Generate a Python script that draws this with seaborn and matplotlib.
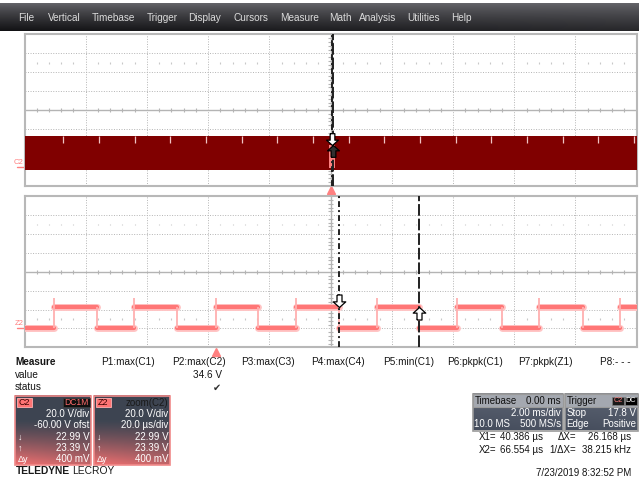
"""
LeCroy scope capture: C2 overview (2 ms/div) with a 20 us/div zoom (Z2).
"""

import numpy as np
import pandas as pd
import matplotlib.pyplot as plt
import matplotlib.transforms as mtransforms
from matplotlib.patches import Rectangle
import seaborn as sns

# ---- menu bar
menu_items = ["File", "Vertical", "Timebase", "Trigger", "Display", "Cursors",
              "Measure", "Math", "Analysis", "Utilities", "Help"]

# ---- C2 overview trace
c2_ms_div = 2.0
c2_delay_ms = 0.0
c2_volts_div = 20.0
c2_offset_v = -60.0
c2_band_v = [-3.0, 32.5]          # envelope of the switching node
c2_notch_ms = [-8.74, -7.57, -6.40, -5.24, -4.07, -2.91, -1.74, -0.58, 0.60,
               1.76, 2.92, 4.09, 5.25, 6.42, 7.58, 8.75, 9.91]
c2_notch_v = 25.5

# ---- Z2 zoom of C2
z2_us_div = 20.0
z2_center_us = 37.6
z2_rise_us = [-52.9, -26.6, 0.0, 26.3, 52.8, 79.0, 105.7, 132.2]
z2_fall_us = [-38.8, -12.5, 13.9, 40.4, 66.6, 93.6, 120.0]
z2_low_v = 0.8
z2_high_v = 23.0
z2_overshoot_v = 32.5
cursor_us = [40.386, 66.554]

# ---- measure table
measure_params = ["P1:max(C1)", "P2:max(C2)", "P3:max(C3)", "P4:max(C4)",
                  "P5:min(C1)", "P6:pkpk(C1)", "P7:pkpk(Z1)", "P8:- - -"]
measure_values = ["", "34.6 V", "", "", "", "", "", ""]
measure_status = ["", "\u2714", "", "", "", "", "", ""]

c2_box_lines = ["20.0 V/div", "-60.00 V ofst", "22.99 V", "23.39 V", "400 mV"]
z2_box_lines = ["20.0 V/div", "20.0 \u00b5s/div", "22.99 V", "23.39 V", "400 mV"]
timebase_lines = [("Timebase", "0.00 ms"), ("", "2.00 ms/div"), ("10.0 MS", "500 MS/s")]
trigger_lines = [("Trigger", ""), ("Stop", "17.8 V"), ("Edge", "Positive")]
cursor_lines = [("X1=", "40.386 \u00b5s", "\u0394X=", "26.168 \u00b5s"),
                ("X2=", "66.554 \u00b5s", "1/\u0394X=", "38.215 kHz")]
timestamp = "7/23/2019 8:32:52 PM"

sns.set_style("white")
plt.rcParams['font.family'] = ['Liberation Sans', 'DejaVu Sans']

W, H = 639, 480
fig = plt.figure(figsize=(W / 100, H / 100), dpi=100)
fig.patch.set_facecolor('white')

# overlay in pixel coordinates for the UI chrome
ov = fig.add_axes([0, 0, 1, 1])
ov.axis('off')


def gradient_box(x0, y0, w, h, top, bottom, start=0.3, power=1.2, edge=None):
    yy = np.linspace(0, 1, 80)[:, None]
    xx = np.linspace(0, 1, 40)[None, :]
    wgt = np.clip((yy - start) / (1 - start), 0, 1) ** power * (1 - 0.25 * xx)
    img = np.array(top)[None, None, :] * (1 - wgt[..., None]) + \
        np.array(bottom)[None, None, :] * wgt[..., None]
    ov.imshow(img, extent=(x0, x0 + w, y0 + h, y0), aspect='auto',
              interpolation='bilinear', zorder=2)
    if edge:
        ov.add_patch(Rectangle((x0, y0), w, h, fill=False, ec=edge, lw=1.2, zorder=3))


# menu bar
gradient_box(0, 3, W, 28, (0.40, 0.40, 0.42), (0.07, 0.07, 0.08), start=0.0, power=0.8)
menu_x = [18, 48, 92, 147, 188, 233, 280, 329, 359, 407, 451]
for name, x in zip(menu_items, menu_x):
    ov.text(x, 18, name, color='#dcdcdc', fontsize=7.2, va='center', ha='left', zorder=4)

# ---- scope panels
px_l, px_r = 24.5, 636.7
top_t, top_b = 34.5, 185.7
bot_t, bot_b = 196.3, 347.3
ax1 = fig.add_axes([px_l / W, 1 - top_b / H, (px_r - px_l) / W, (top_b - top_t) / H])
ax2 = fig.add_axes([px_l / W, 1 - bot_b / H, (px_r - px_l) / W, (bot_b - bot_t) / H])

grid_c = '#b4b4b4'


def scope_grid(ax, xc, xdiv, yc, ydiv):
    ax.set_xlim(xc - 5 * xdiv, xc + 5 * xdiv)
    ax.set_ylim(yc - 4 * ydiv, yc + 4 * ydiv)
    for k in range(-4, 5):
        ax.axvline(xc + k * xdiv, color=grid_c, lw=1.0 if k == 0 else 0.7,
                   ls='-' if k == 0 else (0, (1, 1.6)), zorder=1)
    for k in range(-3, 4):
        ax.axhline(yc + k * ydiv, color=grid_c, lw=1.0 if k == 0 else 0.7,
                   ls='-' if k == 0 else (0, (1, 1.6)), zorder=1)
    sub = np.arange(-25, 26)
    sub = sub[sub % 5 != 0]
    ax.vlines(xc + sub * xdiv / 5, yc - 0.1 * ydiv, yc + 0.1 * ydiv, color=grid_c, lw=0.8, zorder=1)
    for s in (-2.5, 2.5):
        ax.vlines(xc + sub * xdiv / 5, yc + (s - 0.04) * ydiv, yc + (s + 0.04) * ydiv,
                  color='#c8c8c8', lw=0.8, zorder=1)
    subv = np.arange(-20, 21)
    subv = subv[subv % 5 != 0]
    ax.hlines(yc + subv * ydiv / 5, xc - 0.04 * xdiv, xc + 0.04 * xdiv, color=grid_c, lw=0.8, zorder=1)
    ax.set_xticks([])
    ax.set_yticks([])
    ax.set_facecolor('white')
    for sp in ax.spines.values():
        sp.set_visible(True)
        sp.set_color('#b8b8b8')
        sp.set_linewidth(1.5)


yc = -c2_offset_v
scope_grid(ax1, c2_delay_ms, c2_ms_div, yc, c2_volts_div)
scope_grid(ax2, z2_center_us, z2_us_div, yc, c2_volts_div)

down_arrow = [(-0.2, 1.0), (0.2, 1.0), (0.2, 0.45), (0.5, 0.45), (0.0, 0.0),
              (-0.5, 0.45), (-0.2, 0.45), (-0.2, 1.0)]
up_arrow = [(x, -y) for x, y in down_arrow]

# top panel: compressed switching waveform
t_span = [c2_delay_ms - 5 * c2_ms_div, c2_delay_ms + 5 * c2_ms_div]
ax1.fill_between(t_span, c2_band_v[0], c2_band_v[1], color='#800000', lw=0, zorder=3)
ax1.vlines(c2_notch_ms, c2_notch_v, c2_band_v[1], color='#f0c4c4', lw=0.9, zorder=4)
zoom_ms = [(z2_center_us - 5 * z2_us_div) / 1000, (z2_center_us + 5 * z2_us_div) / 1000]
ax1.fill_between(zoom_ms, z2_low_v - 2, z2_high_v, color='#ff8080', lw=0, zorder=4)
cur_styles = [(0, (3, 1.6, 1, 1.6)), (0, (6, 1.5))]
for c, ls in zip(cursor_us, cur_styles):
    ax1.axvline(c / 1000, color='#202020', lw=1.4, ls=ls, zorder=5)
ax1.plot([cursor_us[0] / 1000], [z2_high_v], marker=down_arrow, ms=17, mfc='white',
         mec='black', mew=0.9, ls='none', zorder=6)
ax1.plot([cursor_us[1] / 1000], [z2_high_v], marker=up_arrow, ms=17, mfc='#303030',
         mec='black', mew=0.9, ls='none', zorder=6)

# bottom panel: zoomed square wave
edges = sorted([(t, 1) for t in z2_rise_us] + [(t, 0) for t in z2_fall_us])
lo, hi = ax2.get_xlim()
rows = []
start, level = lo, z2_low_v
for i, (t, rising) in enumerate(edges):
    rows += [(i, start, level), (i, t, level)]
    start, level = t, (z2_high_v if rising else z2_low_v)
rows += [(len(edges), start, level), (len(edges), hi, level)]
df = pd.DataFrame(rows, columns=['seg', 't_us', 'volt'])
sns.lineplot(data=df, x='t_us', y='volt', units='seg', estimator=None, color='#ffc4c4',
             lw=5.0, ax=ax2, legend=False, zorder=3)
sns.lineplot(data=df, x='t_us', y='volt', units='seg', estimator=None, color='#ff7676',
             lw=3.0, ax=ax2, legend=False, zorder=3)
ax2.vlines(z2_rise_us, z2_low_v, z2_overshoot_v, color='#ffb0b0', lw=1.3, zorder=3)
ax2.vlines(z2_fall_us, z2_low_v, z2_high_v, color='#ffb0b0', lw=1.3, zorder=3)
ax2.set_xlim(lo, hi)
ax2.set_xlabel('')
ax2.set_ylabel('')
for c, ls in zip(cursor_us, cur_styles):
    ax2.axvline(c, color='#202020', lw=1.4, ls=ls, zorder=5)
ax2.plot([cursor_us[0]], [z2_high_v], marker=down_arrow, ms=18, mfc='white',
         mec='black', mew=0.9, ls='none', zorder=6)
ax2.plot([cursor_us[1]], [z2_high_v], marker=up_arrow, ms=18, mfc='white',
         mec='black', mew=0.9, ls='none', zorder=6)

# ground markers and trigger markers
for ax, lab in ((ax1, 'C2'), (ax2, 'Z2')):
    tr = mtransforms.blended_transform_factory(ax.transAxes, ax.transData)
    ax.plot([-0.013, -0.001], [0, 0], color='#ff8080', lw=1.0, transform=tr, clip_on=False)
    ax.text(-0.009, 1.2, lab, color='#ff8080', fontsize=5.5, ha='center', va='bottom',
            transform=tr, clip_on=False)
    trx = mtransforms.blended_transform_factory(ax.transData, ax.transAxes)
    ax.plot([0], [-0.028], marker='^', ms=5.5, color='#ff8080', ls='none',
            transform=trx, clip_on=False)

# ---- measure table
ov.text(15, 362, "Measure", fontsize=7.2, fontweight='bold', va='center', color='#151515')
ov.text(15, 374.5, "value", fontsize=7.2, va='center', color='#151515')
ov.text(15, 387, "status", fontsize=7.2, va='center', color='#151515')
meas_x = [101, 172, 241, 311, 383, 447, 518, 600]
for x, p, v, s in zip(meas_x, measure_params, measure_values, measure_status):
    ov.text(x, 362, p, fontsize=7.2, va='center', color='#151515')
    if v:
        ov.text(x + 50, 374.5, v, fontsize=7.2, va='center', ha='right', color='#151515')
    if s:
        ov.text(x + 49, 387.5, s, fontsize=7, va='center', ha='right', color='#303030',
                family=['DejaVu Sans'])

# channel descriptor boxes
slate = (0.24, 0.27, 0.32)
salmon = (0.95, 0.44, 0.44)
row_y = [414, 425.5, 437, 448, 459]
for x0, lines, tag in ((14.5, c2_box_lines, 'C2'), (93.5, z2_box_lines, 'Z2')):
    gradient_box(x0, 395.5, 76, 69.5, slate, salmon, start=0.35, power=1.3, edge='#f08a8a')
    ov.add_patch(Rectangle((x0 + 2, 398), 15, 9, fc='#ff7474', ec='#ffb0b0', lw=0.6, zorder=4))
    ov.text(x0 + 9.5, 402.6, tag, fontsize=6.5, ha='center', va='center', color='#3a0000', zorder=5)
    for y, s in zip(row_y, lines):
        ov.text(x0 + 75, y, s, fontsize=7, ha='right', va='center', color='white', zorder=5)
    for y, s in zip(row_y[2:], ["\u2193", "\u2191", "\u0394y"]):
        ov.text(x0 + 3, y, s, fontsize=6.5, ha='left', va='center', color='white', zorder=5)
ov.add_patch(Rectangle((62.5, 398), 27, 9, fc='#101010', ec='#404040', lw=0.5, zorder=4))
ov.text(76, 402.6, "DC1M", fontsize=6.2, ha='center', va='center', color='#ff6a6a', zorder=5)
ov.text(168.5, 402.6, "zoom(C2)", fontsize=7, ha='right', va='center', color='#1a1a1a', zorder=5)

# timebase / trigger boxes
box_rows = [401, 412.5, 424]
for x0, w, lines in ((472.5, 90, timebase_lines), (564.5, 73, trigger_lines)):
    gradient_box(x0, 393.5, w, 37, (0.36, 0.39, 0.45), (0.27, 0.30, 0.36), start=0.0, power=1.0,
                 edge='#9a9a9a')
    ov.add_patch(Rectangle((x0, 393.5), w, 13, fc='#a4a8b0', ec='#9a9a9a', lw=0.8, zorder=3))
    for i, ((l, r), y) in enumerate(zip(lines, box_rows)):
        col = '#111111' if i == 0 else 'white'
        if l:
            ov.text(x0 + 2, y, l, fontsize=7, ha='left', va='center', color=col, zorder=5)
        if r:
            ov.text(x0 + w - 1.5, y, r, fontsize=7, ha='right', va='center', color=col, zorder=5)
ov.add_patch(Rectangle((612, 396.5), 12, 8, fc='#1a1a1a', ec='#808080', lw=0.5, zorder=4))
ov.text(618, 400.6, "C2", fontsize=5.2, ha='center', va='center', color='#ff8080', zorder=5)
ov.add_patch(Rectangle((625, 396.5), 12, 8, fc='#000000', ec='#808080', lw=0.5, zorder=4))
ov.text(631, 400.6, "DC", fontsize=5.2, ha='center', va='center', color='white', zorder=5)

# cursor readouts
for (a, b, c, d), y in zip(cursor_lines, [437, 450]):
    ov.text(479, y, a, fontsize=7, ha='left', va='center', color='#151515')
    ov.text(543, y, b, fontsize=7, ha='right', va='center', color='#151515')
    ov.text(576, y, c, fontsize=7, ha='right', va='center', color='#151515')
    ov.text(631, y, d, fontsize=7, ha='right', va='center', color='#151515')
ov.text(631, 473, timestamp, fontsize=7, ha='right', va='center', color='#151515')

# brand mark: bold word followed by regular word
brand = ov.text(16, 471.5, "TELEDYNE", fontsize=7.4, fontweight='bold', ha='left',
                va='center', color='#1a1a1a')
ov.set_xlim(0, W)
ov.set_ylim(H, 0)
fig.canvas.draw()
bb = brand.get_window_extent()
ov.text(bb.x1 + 2, 471.5, "LECROY", fontsize=7.4, ha='left', va='center', color='#1a1a1a',
        transform=mtransforms.blended_transform_factory(mtransforms.IdentityTransform(), ov.transData))

fig.savefig('out.png', dpi=100)
